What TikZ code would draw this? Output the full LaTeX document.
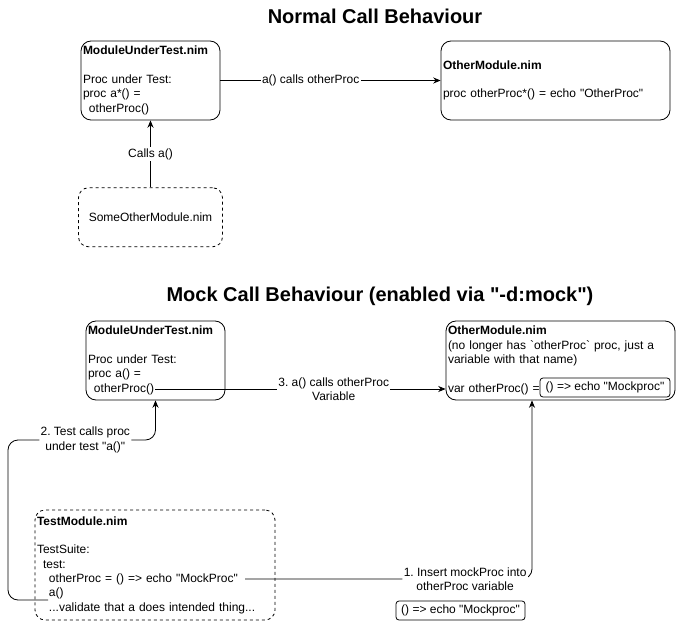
\documentclass[tikz,border=0pt]{standalone}
\usepackage{fontspec}
\setmainfont{Liberation Sans}
\usetikzlibrary{positioning,arrows.meta}
\frenchspacing
\newcommand{\modwidth}{104.25pt}
\newcommand{\otherwidth}{171.75pt}
\newcommand{\modheight}{59.25pt}
\newcommand{\tabin}{\hspace*{4.5pt}}
\newcommand{\dq}{\textquotedbl}
\tikzstyle{module}=[fill=white,text=black,draw=black,shape=rectangle,rounded corners=7.5pt,
                    align=left,inner sep=1.5pt,minimum height=\modheight]
\tikzstyle{caller}=[module,dash pattern=on 2.25pt off 2.25pt]
\tikzstyle{lambda}=[fill=white,text=black,draw=black,shape=rectangle,rounded corners=2.25pt,
                    inner sep=1pt,minimum height=14.25pt]
\tikzstyle{edgelabel}=[fill=white,text=black,draw=none,inner sep=1pt,align=center]
\tikzstyle{heading}=[fill=none,text=black,draw=none,font=\fontsize{15}{18}\selectfont\bfseries]

\begin{document}
\begin{tikzpicture}[x=0.75pt,y=-0.75pt,semithick,font=\fontsize{9}{10.75}\selectfont,
                    >={Stealth[length=5.5pt,width=4.5pt]}]
\fill [white] (0,0) rectangle (676,621);
\useasboundingbox (0,0) rectangle (676,621);

\node [heading] (normtitle) at (375,16) {Normal Call Behaviour};
\node [module, minimum width=\modwidth, text width=101.25pt] (mut) at (150.5,80.5)
      {\textbf{ModuleUnderTest.nim}\\ \mbox{}\\ Proc under Test:\\ proc a*() =\\ \tabin otherProc()};
\node [module, minimum width=\otherwidth, text width=168.75pt] (other) at (555.5,80.5)
      {\textbf{OtherModule.nim}\\ \mbox{}\\ proc otherProc*() = echo \dq OtherProc\dq};
\node [caller, align=center, minimum width=108pt, minimum height=44.25pt, below= 50.25pt of mut] (someother)
      {SomeOtherModule.nim};

\draw [->] (mut) -- node[edgelabel, pos=0.41] {a() calls otherProc} (other);
\draw [->] (someother) -- node[edgelabel] {Calls a()} (mut);

\node [heading] (mocktitle) at (380,296) {Mock Call Behaviour (enabled via \dq-d:mock\dq)};
\node [module, minimum width=\modwidth, text width=101.25pt] (mockmut) at (155.5,360.5)
      {\textbf{ModuleUnderTest.nim}\\ \mbox{}\\ Proc under Test:\\ proc a() =\\ \tabin otherProc()};
\node [module, minimum width=\otherwidth, text width=168.75pt] (mockother) at (560.5,360.5)
      {\textbf{OtherModule.nim}\\ (no longer has \textasciigrave otherProc\textasciigrave{} proc, just a\\
       variable with that name)\\ \mbox{}\\ var otherProc() =};
\node [lambda, minimum width=97.5pt] (mockvar) at (605,387.5) {() => echo \dq Mockproc\dq};
\node [caller, minimum width=180pt, minimum height=82.5pt, text width=177pt] (testmod) at (155,565)
      {\textbf{TestModule.nim}\\ \mbox{}\\ TestSuite:\\ \tabin test:\\
       \tabin\tabin otherProc = () => echo \dq MockProc\dq\\ \tabin\tabin a()\\
       \tabin\tabin ...validate that a does intended thing...};
\node [lambda, minimum width=96.75pt] (mocklambda) at (460.5,610.5) {() => echo \dq Mockproc\dq};

\coordinate (callfrom) at (155,389);
\coordinate (insertfrom) at (245,579);
\coordinate (insertbend) at (532,579);
\coordinate (testfrom) at (48,600);
\coordinate (testbend) at (8,440);

\draw [->] (callfrom) -- node[edgelabel, pos=0.615] {3. a() calls otherProc\\Variable} (callfrom -| mockother.west);
\draw [->, rounded corners=7.5pt] (insertfrom) -- node[edgelabel, pos=0.767] {1. Insert mockProc into\\otherProc variable}
      (insertbend) -- (insertbend |- mockother.south);
\draw [->, rounded corners=7.5pt] (testfrom) -- (testfrom -| testbend) -- (testbend)
      -- node[edgelabel, pos=0.524] {2. Test calls proc\\under test \dq a()\dq} (testbend -| mockmut.south) -- (mockmut.south);
\end{tikzpicture}
\end{document}
